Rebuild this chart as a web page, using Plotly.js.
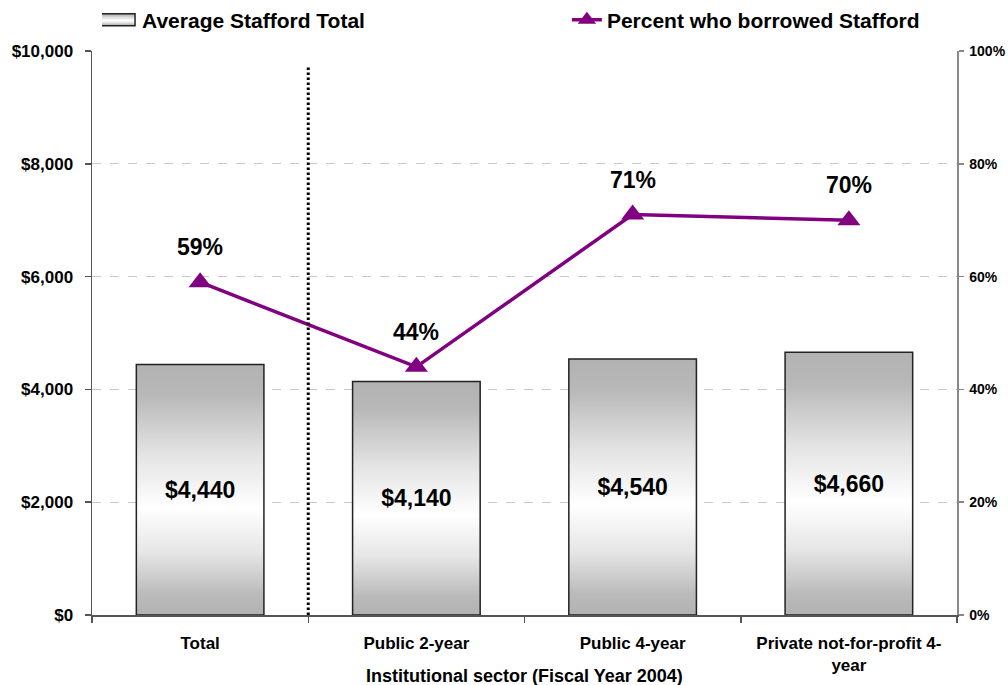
<!DOCTYPE html>
<html>
<head>
<meta charset="utf-8">
<script src="https://cdn.plot.ly/plotly-3.0.1.min.js"></script>
<style>html,body{margin:0;padding:0;background:#fff}#chart{width:1008px;height:685px}</style>
</head>
<body>
<div id="chart"></div>
<script>
const categories = ["Total", "Public 2-year", "Public 4-year", "Private not-for-profit 4-<br>year"];
const averageStafford = [4440, 4140, 4540, 4660];
const percentBorrowed = [0.59, 0.44, 0.71, 0.70];
const barName = "Average Stafford Total";
const lineName = "Percent who borrowed Stafford";
const xTitle = "Institutional sector (Fiscal Year 2004)";

const FONT = "Liberation Sans, Arial, sans-serif";
const legFont = {family: FONT, size: 21, color: "#000", weight: "bold"};

const barTrace = {
  type: "bar",
  name: barName,
  legend: "legend",
  x: categories,
  y: averageStafford,
  width: 0.59,
  marker: {color: "#d0d0d0", line: {color: "#222", width: 1.5}},
  texttemplate: "$%{y:,.0f}",
  textposition: "inside",
  insidetextanchor: "middle",
  insidetextfont: {family: FONT, size: 23, color: "#000", weight: "bold"},
  hoverinfo: "skip"
};

const lineTrace = {
  type: "scatter",
  mode: "lines+markers",
  name: lineName,
  legend: "legend2",
  x: categories,
  y: percentBorrowed,
  yaxis: "y2",
  line: {color: "#800080", width: 3.5},
  marker: {symbol: "triangle-up", size: 20, color: "#800080"},
  hoverinfo: "skip"
};

const annotations = categories.map((c, i) => ({
  x: c, y: percentBorrowed[i], xref: "x", yref: "y2",
  text: Math.round(percentBorrowed[i] * 100) + "%",
  showarrow: false, yshift: 35,
  font: {family: FONT, size: 23, color: "#000", weight: "bold"}
}));
annotations.push({
  x: 0.5, y: -0.108, xref: "paper", yref: "paper", yanchor: "middle",
  text: xTitle, showarrow: false,
  font: {family: FONT, size: 18, color: "#000", weight: "bold"}
});

const layout = {
  width: 1008, height: 685,
  margin: {l: 92, r: 51, t: 51, b: 70, autoexpand: false},
  paper_bgcolor: "#fff", plot_bgcolor: "#fff",
  font: {family: FONT, color: "#000", weight: "bold"},
  showlegend: true,
  legend: {
    orientation: "h", x: 0.0116, xanchor: "left", y: 1.055, yanchor: "middle",
    font: legFont, bgcolor: "rgba(0,0,0,0)"
  },
  legend2: {
    orientation: "h", x: 0.549, xanchor: "left", y: 1.055, yanchor: "middle",
    font: legFont, bgcolor: "rgba(0,0,0,0)"
  },
  xaxis: {
    type: "category",
    showline: true, linecolor: "#555", linewidth: 1.5,
    ticks: "outside", tickson: "boundaries", ticklen: 6, tickcolor: "#555", tickwidth: 1.5,
    ticklabelstandoff: 12,
    tickfont: {family: FONT, size: 17, color: "#000", weight: "bold"},
    showgrid: false, zeroline: false, fixedrange: true
  },
  yaxis: {
    range: [0, 10000], dtick: 2000, tick0: 0,
    tickprefix: "$", tickformat: ",.0f",
    showline: true, linecolor: "#555", linewidth: 1.5,
    ticks: "outside", ticklen: 6, tickcolor: "#555", tickwidth: 1.5,
    ticklabelstandoff: 8,
    tickfont: {family: FONT, size: 17, color: "#000", weight: "bold"},
    showgrid: true, gridcolor: "#c8c8c8", gridwidth: 1, griddash: "dash",
    zeroline: false, fixedrange: true
  },
  yaxis2: {
    overlaying: "y", side: "right",
    range: [0, 1], dtick: 0.2, tick0: 0, tickformat: ".0%",
    showline: true, linecolor: "#888", linewidth: 1.5,
    ticks: "outside", ticklen: 5, tickcolor: "#888", tickwidth: 1.5,
    ticklabelstandoff: 3,
    tickfont: {family: FONT, size: 14, color: "#000", weight: "bold"},
    showgrid: false, zeroline: false, fixedrange: true
  },
  shapes: [{
    type: "line", xref: "x", yref: "paper",
    x0: 0.5, x1: 0.5, y0: 0, y1: 0.973,
    line: {color: "#000", width: 3, dash: "2.5px,2.5px"}
  }],
  annotations: annotations,
  hovermode: false
};

Plotly.newPlot("chart", [barTrace, lineTrace], layout, {staticPlot: true, displayModeBar: false}).then(gd => {
  const svg = gd.querySelector("svg.main-svg");
  const ns = "http://www.w3.org/2000/svg";
  let defs = svg.querySelector("defs");
  if (!defs) { defs = document.createElementNS(ns, "defs"); svg.insertBefore(defs, svg.firstChild); }
  const grad = document.createElementNS(ns, "linearGradient");
  grad.setAttribute("id", "barGrad");
  grad.setAttribute("x1", "0"); grad.setAttribute("y1", "0");
  grad.setAttribute("x2", "0"); grad.setAttribute("y2", "1");
  [[0, "#b2b2b2"], [0.12, "#b8b8b8"], [0.35, "#e2e2e2"], [0.57, "#ffffff"], [0.75, "#e6e6e6"], [0.92, "#bababa"], [1, "#b2b2b2"]].forEach(([o, c]) => {
    const s = document.createElementNS(ns, "stop");
    s.setAttribute("offset", o); s.setAttribute("stop-color", c);
    grad.appendChild(s);
  });
  defs.appendChild(grad);
  gd.querySelectorAll(".barlayer .point path").forEach(p => { p.style.fill = "url(#barGrad)"; });
  gd.querySelectorAll(".legend .traces .legendpoints path").forEach(p => {
    if (p.closest(".legendbar") || /^M6,6H-6V-6H6Z$/.test(p.getAttribute("d") || "")) {
      p.setAttribute("d", "M13,6H-25V-6H13Z");
      p.style.fill = "url(#barGrad)";
      p.style.stroke = "#222"; p.style.strokeWidth = "1.5px";
    }
  });
});
</script>
</body>
</html>
